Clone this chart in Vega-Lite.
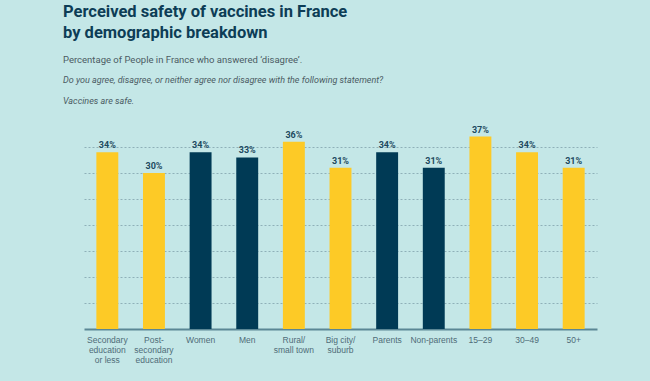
{
  "$schema": "https://vega.github.io/schema/vega-lite/v6.json",
  "background": "#c4e7e7",
  "padding": {"left": 63, "top": 4, "right": 53, "bottom": 18},
  "config": {"view": {"stroke": null}, "font": "Roboto", "concat": {"spacing": 0}},
  "title": {
    "text": ["Perceived safety of vaccines in France", "by demographic breakdown"],
    "subtitle": "Percentage of People in France who answered ‘disagree’.",
    "anchor": "start",
    "frame": "group",
    "dx": -21,
    "font": "Roboto",
    "fontSize": 16.5,
    "fontWeight": "bold",
    "color": "#0d3d56",
    "lineHeight": 21,
    "subtitleFont": "Roboto",
    "subtitleFontSize": 9.5,
    "subtitleColor": "#4b5b63",
    "subtitlePadding": 13,
    "offset": 12
  },
  "vconcat": [
    {
      "width": 513,
      "height": 208,
      "title": {
        "text": "Do you agree, disagree, or neither agree nor disagree with the following statement?",
        "subtitle": "Vaccines are safe.",
        "anchor": "start",
        "frame": "group",
        "dx": -21,
        "font": "Roboto",
        "fontSize": 9,
        "fontStyle": "italic",
        "fontWeight": "normal",
        "color": "#4b5b63",
        "subtitleFont": "Roboto",
        "subtitleFontSize": 9,
        "subtitleFontStyle": "italic",
        "subtitleColor": "#4b5b63",
        "subtitlePadding": 12,
        "offset": 15
      },
      "data": {
        "values": [
          {"group": "Secondary|education|or less", "cat": "education", "pct": 0.34},
          {"group": "Post-|secondary|education", "cat": "education", "pct": 0.30},
          {"group": "Women", "cat": "gender", "pct": 0.34},
          {"group": "Men", "cat": "gender", "pct": 0.33},
          {"group": "Rural/|small town", "cat": "location", "pct": 0.36},
          {"group": "Big city/|suburb", "cat": "location", "pct": 0.31},
          {"group": "Parents", "cat": "parent", "pct": 0.34},
          {"group": "Non-parents", "cat": "parent", "pct": 0.31},
          {"group": "15–29", "cat": "age", "pct": 0.37},
          {"group": "30–49", "cat": "age", "pct": 0.34},
          {"group": "50+", "cat": "age", "pct": 0.31}
        ]
      },
      "encoding": {
        "x": {
          "field": "group",
          "type": "nominal",
          "sort": null,
          "scale": {"paddingInner": 0.53, "paddingOuter": 0.265},
          "axis": {
            "title": null,
            "labelAngle": 0,
            "ticks": false,
            "domainColor": "#5b8795",
            "domainWidth": 2,
            "labelFont": "Liberation Sans",
            "labelFontSize": 8.5,
            "labelColor": "#4f6c78",
            "labelPadding": 6,
            "labelLineHeight": 10,
            "labelBaseline": "top",
            "labelExpr": "split(datum.value, '|')"
          }
        },
        "y": {
          "field": "pct",
          "type": "quantitative",
          "scale": {"domain": [0, 0.4]},
          "axis": {
            "title": null,
            "labels": false,
            "ticks": false,
            "domain": false,
            "grid": true,
            "gridColor": "#8fb0b8",
            "gridDash": [2, 2],
            "gridWidth": 1,
            "values": [0.05, 0.1, 0.15, 0.2, 0.25, 0.3, 0.35]
          }
        }
      },
      "layer": [
        {
          "mark": {"type": "bar"},
          "encoding": {
            "color": {
              "field": "cat",
              "type": "nominal",
              "scale": {
                "domain": ["education", "gender", "location", "parent", "age"],
                "range": ["#fdca26", "#003a55", "#fdca26", "#003a55", "#fdca26"]
              },
              "legend": null
            }
          }
        },
        {
          "mark": {"type": "text", "dy": -7, "font": "Roboto", "fontWeight": "bold", "fontSize": 9, "color": "#1d4a60"},
          "encoding": {
            "text": {"field": "pct", "type": "quantitative", "format": ".0%"}
          }
        }
      ]
    }
  ]
}
